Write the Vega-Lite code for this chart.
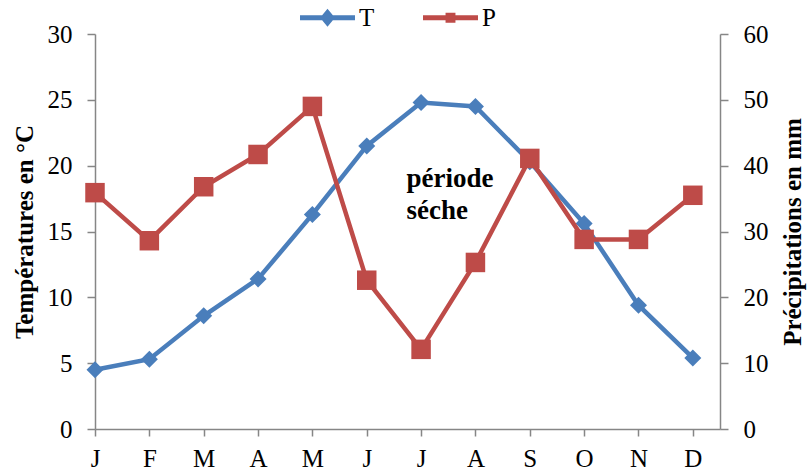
{
  "$schema": "https://vega.github.io/schema/vega-lite/v6.json",
  "autosize": {"type": "none"},
  "padding": {"left": 95, "top": 34, "right": 88, "bottom": 43},
  "width": 625,
  "height": 395,
  "background": "white",
  "config": {
    "view": {"stroke": null},
    "font": "Liberation Serif",
    "axis": {
      "grid": false,
      "domainColor": "#868686",
      "domainWidth": 1.5,
      "tickColor": "#868686",
      "tickWidth": 1.5,
      "tickSize": 8,
      "labelFont": "Liberation Serif",
      "labelFontSize": 25,
      "labelColor": "#000000",
      "titleFont": "Liberation Serif",
      "titleFontSize": 25,
      "titleFontWeight": "bold",
      "titleColor": "#000000"
    }
  },
  "data": {
    "values": [
      {"m": 1, "month": "J", "T": 4.5, "P": 35.9},
      {"m": 2, "month": "F", "T": 5.3, "P": 28.6},
      {"m": 3, "month": "M", "T": 8.6, "P": 36.8},
      {"m": 4, "month": "A", "T": 11.4, "P": 41.7},
      {"m": 5, "month": "M", "T": 16.3, "P": 49.0},
      {"m": 6, "month": "J", "T": 21.5, "P": 22.6},
      {"m": 7, "month": "J", "T": 24.8, "P": 12.1},
      {"m": 8, "month": "A", "T": 24.5, "P": 25.3},
      {"m": 9, "month": "S", "T": 20.3, "P": 41.1},
      {"m": 10, "month": "O", "T": 15.6, "P": 28.8},
      {"m": 11, "month": "N", "T": 9.4, "P": 28.8},
      {"m": 12, "month": "D", "T": 5.4, "P": 35.5}
    ]
  },
  "encoding": {
    "x": {
      "field": "m",
      "type": "quantitative",
      "scale": {"domain": [1, 12.5], "nice": false, "zero": false},
      "axis": {
        "title": null,
        "values": [1, 2, 3, 4, 5, 6, 7, 8, 9, 10, 11, 12],
        "labelExpr": "['J','F','M','A','M','J','J','A','S','O','N','D'][datum.value - 1]",
        "tickSize": 7,
        "labelPadding": 10,
        "labelFlush": false,
        "labelOverlap": false
      }
    }
  },
  "layer": [
    {
      "encoding": {
        "y": {
          "field": "T",
          "type": "quantitative",
          "scale": {"domain": [0, 30], "nice": false},
          "axis": {
            "title": "Températures en °C",
            "orient": "left",
            "values": [0, 5, 10, 15, 20, 25, 30],
            "labelPadding": 15,
            "titlePadding": 10
          }
        }
      },
      "layer": [
        {
          "mark": {"type": "line", "strokeWidth": 4.5},
          "encoding": {
            "color": {
              "datum": "T",
              "type": "nominal",
              "scale": {"domain": ["T", "P"], "range": ["#4A7EBB", "#BE4B48"]},
              "legend": {
                "title": null,
                "orient": "none",
                "direction": "horizontal",
                "legendX": 205,
                "legendY": -44,
                "symbolSize": 3025,
                "labelFont": "Liberation Serif",
                "labelFontSize": 25,
                "labelColor": "#000000",
                "labelOffset": 4,
                "columnPadding": 48,
                "encode": {
                  "symbols": {
                    "update": {
                      "shape": {"signal": "datum.value === 'T' ? 'M-1,-0.09H1V0.09H-1Z M-0.27,0L0,-0.33L0.27,0L0,0.33Z' : 'M-1,-0.09H1V0.09H-1Z M-0.18,-0.18H0.18V0.18H-0.18Z'"},
                      "fill": {"signal": "datum.value === 'T' ? '#4A7EBB' : '#BE4B48'"},
                      "fillOpacity": {"value": 1},
                      "strokeWidth": {"value": 0}
                    }
                  }
                }
              }
            }
          }
        },
        {
          "mark": {"type": "point", "shape": "diamond", "filled": true, "size": 289, "opacity": 1},
          "encoding": {"color": {"datum": "T", "type": "nominal"}}
        },
        {
          "transform": [{"filter": "datum.m === 7"}],
          "mark": {"type": "text", "fontSize": 27, "fontWeight": "bold", "align": "left", "baseline": "alphabetic", "fill": "black"},
          "encoding": {
            "x": {"datum": 6.73, "type": "quantitative"},
            "y": {"datum": 18.4, "type": "quantitative"},
            "text": {"value": "période"}
          }
        },
        {
          "transform": [{"filter": "datum.m === 7"}],
          "mark": {"type": "text", "fontSize": 27, "fontWeight": "bold", "align": "left", "baseline": "alphabetic", "fill": "black"},
          "encoding": {
            "x": {"datum": 6.73, "type": "quantitative"},
            "y": {"datum": 15.95, "type": "quantitative"},
            "text": {"value": "séche"}
          }
        }
      ]
    },
    {
      "encoding": {
        "y": {
          "field": "P",
          "type": "quantitative",
          "scale": {"domain": [0, 60], "nice": false},
          "axis": {
            "title": "Précipitations en mm",
            "orient": "right",
            "titleAngle": 270,
            "values": [0, 10, 20, 30, 40, 50, 60],
            "labelPadding": 15,
            "titlePadding": 37
          }
        },
        "color": {"datum": "P", "type": "nominal"}
      },
      "layer": [
        {"mark": {"type": "line", "strokeWidth": 4.5}},
        {"mark": {"type": "point", "shape": "square", "filled": true, "size": 380, "opacity": 1}}
      ]
    }
  ],
  "resolve": {"scale": {"y": "independent"}}
}
